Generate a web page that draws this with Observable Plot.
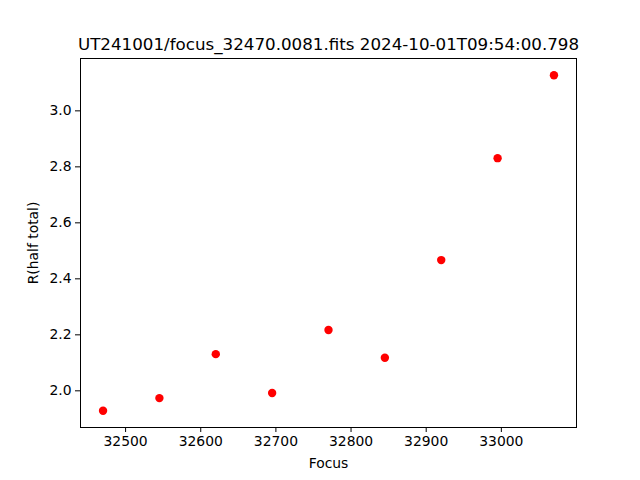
<!DOCTYPE html>
<html>
<head>
<meta charset="utf-8">
<script src="https://cdn.jsdelivr.net/npm/d3@7"></script>
<script src="https://cdn.jsdelivr.net/npm/@observablehq/plot@0.6"></script>
<style>
  html, body { margin: 0; padding: 0; background: #fff; }
</style>
</head>
<body>
<div id="chart"></div>
<script>
const titleText = "UT241001/focus_32470.0081.fits 2024-10-01T09:54:00.798";
const focus = [32470, 32545, 32620, 32695, 32770, 32845, 32920, 32995, 33070];
const rHalf = [1.929, 1.974, 2.131, 1.992, 2.217, 2.118, 2.467, 2.831, 3.127];
const xTicks = [32500, 32600, 32700, 32800, 32900, 33000];
const yTicks = [2.0, 2.2, 2.4, 2.6, 2.8, 3.0];

const data = focus.map((f, i) => ({focus: f, r: rHalf[i]}));

const chart = Plot.plot({
  width: 640,
  height: 480,
  marginLeft: 80,
  marginRight: 64,
  marginTop: 58,
  marginBottom: 53,
  style: {fontFamily: "DejaVu Sans", fontSize: "13.9px", color: "black", background: "white"},
  x: {domain: [32440, 33100]},
  y: {domain: [1.869, 3.187]},
  marks: [
    Plot.frame({stroke: "black", strokeWidth: 1}),
    Plot.axisX({ticks: xTicks, tickFormat: d3.format("d"), tickSize: 5, tickPadding: 4, fontSize: 13.9, label: "Focus", labelAnchor: "center", labelArrow: "none", labelOffset: 40}),
    Plot.axisY({ticks: yTicks, tickFormat: d3.format(".1f"), tickSize: 5, tickPadding: 4, fontSize: 13.9, label: "R(half total)", labelAnchor: "center", labelArrow: "none", labelOffset: 52}),
    Plot.dot(data, {x: "focus", y: "r", r: 4.2, fill: "red", stroke: "none"}),
    Plot.text([titleText], {frameAnchor: "top", dy: -14, lineAnchor: "middle", fontSize: 16.7, fill: "black"})
  ]
});
document.getElementById("chart").appendChild(chart);
</script>
</body>
</html>
